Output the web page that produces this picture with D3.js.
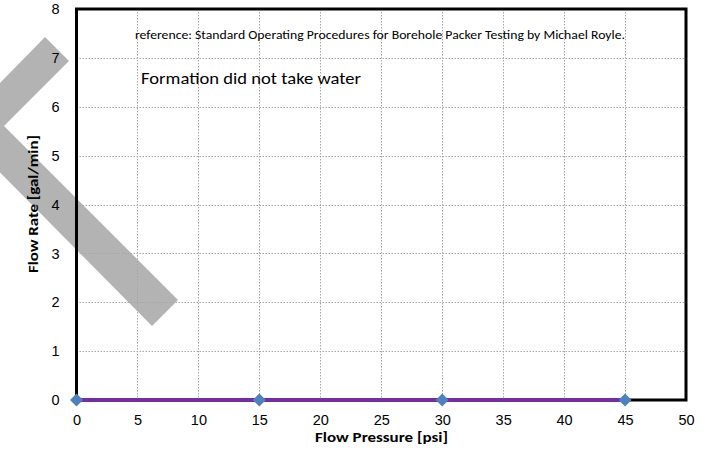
<!DOCTYPE html>
<html>
<head>
<meta charset="utf-8">
<script src="https://cdn.jsdelivr.net/npm/d3@7"></script>
<style>
  html, body { margin: 0; padding: 0; background: #fff; }
  svg { display: block; font-family: Carlito, Calibri, Lato, "Open Sans", sans-serif; }
</style>
</head>
<body>
<svg id="chart" width="706" height="451"></svg>
<script>
// Packer test: flow rate measured at each pressure step
const pressure = [0, 15, 30, 45];        // psi
const flowRate = [0, 0, 0, 0];           // gal/min
const xTicks = [0, 5, 10, 15, 20, 25, 30, 35, 40, 45, 50];
const yTicks = [0, 1, 2, 3, 4, 5, 6, 7, 8];
const xTitle = "Flow Pressure [psi]";
const yTitle = "Flow Rate [gal/min]";
const sourceNote = "reference: Standard Operating Procedures for Borehole Packer Testing by Michael Royle.";
const resultNote = "Formation did not take water";

const svg = d3.select("#chart");
const plot = { left: 76.5, right: 686, top: 9, bottom: 400 };

const x = d3.scaleLinear().domain([0, 50]).range([plot.left, plot.right]);
const y = d3.scaleLinear().domain([0, 8]).range([plot.bottom, plot.top]);

// grey chevron stamp behind the chart
svg.append("path")
  .attr("d", "M45,37 L69,61 L4,126 L178,300 L152,326 L-44,128 Z")
  .attr("fill", "#b3b3b3");

// dotted grid
const grid = svg.append("g").attr("stroke", "#a6a6a6").attr("stroke-width", 1)
  .attr("stroke-dasharray", "1.5,1.5");
grid.selectAll("line.h").data(yTicks.slice(1, -1)).join("line")
  .attr("x1", plot.left).attr("x2", plot.right)
  .attr("y1", d => Math.round(y(d)) + 0.5).attr("y2", d => Math.round(y(d)) + 0.5);
grid.selectAll("line.v").data(xTicks.slice(1, -1)).join("line")
  .attr("y1", plot.top).attr("y2", plot.bottom)
  .attr("x1", d => Math.round(x(d)) + 0.5).attr("x2", d => Math.round(x(d)) + 0.5);

// plot frame
svg.append("rect")
  .attr("x", plot.left).attr("y", plot.top)
  .attr("width", plot.right - plot.left).attr("height", plot.bottom - plot.top)
  .attr("fill", "none").attr("stroke", "#000").attr("stroke-width", 3);

// axes (labels only)
const xAxis = svg.append("g").attr("transform", `translate(0,${plot.bottom})`)
  .call(d3.axisBottom(x).tickValues(xTicks).tickSize(0).tickPadding(15));
const yAxis = svg.append("g").attr("transform", `translate(${plot.left},0)`)
  .call(d3.axisLeft(y).tickValues(yTicks).tickSize(0).tickPadding(17));
[xAxis, yAxis].forEach(a => {
  a.select(".domain").remove();
  a.selectAll("text").attr("font-family", null).attr("font-size", 14.5).attr("fill", "#000");
});

// series line and markers
const pts = pressure.map((p, i) => [p, flowRate[i]]);
svg.append("path")
  .datum(pts)
  .attr("d", d3.line().x(d => x(d[0])).y(d => y(d[1])))
  .attr("fill", "none").attr("stroke", "#7030a0").attr("stroke-width", 4);
svg.selectAll("path.pt").data(pts).join("path")
  .attr("class", "pt")
  .attr("transform", d => `translate(${x(d[0])},${y(d[1])})`)
  .attr("d", "M0,-6.5 L6.5,0 L0,6.5 L-6.5,0 Z")
  .attr("fill", "#4f81bd");

// axis titles
svg.append("text")
  .attr("x", 381.5).attr("y", 442)
  .attr("text-anchor", "middle").attr("font-size", 14).attr("font-weight", "bold")
  .attr("textLength", 133).attr("lengthAdjust", "spacingAndGlyphs")
  .text(xTitle);
svg.append("text")
  .attr("transform", `translate(37.5,204) rotate(-90)`)
  .attr("text-anchor", "middle").attr("font-size", 14).attr("font-weight", "bold")
  .attr("textLength", 138).attr("lengthAdjust", "spacingAndGlyphs")
  .text(yTitle);

// notes inside the plot
svg.append("text")
  .attr("x", 135).attr("y", 39)
  .attr("font-size", 11.5)
  .attr("textLength", 490).attr("lengthAdjust", "spacingAndGlyphs")
  .text(sourceNote);
svg.append("text")
  .attr("x", 141).attr("y", 84)
  .attr("font-size", 16.5)
  .attr("textLength", 220).attr("lengthAdjust", "spacingAndGlyphs")
  .text(resultNote);
</script>
</body>
</html>
